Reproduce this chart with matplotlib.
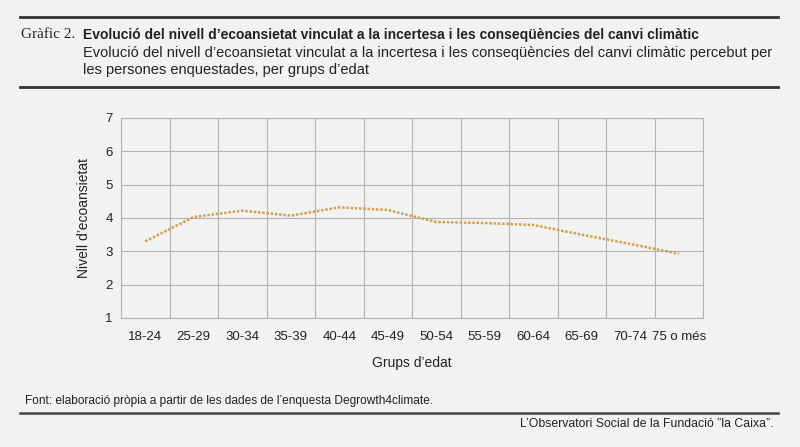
import matplotlib.pyplot as plt
import numpy as np

# dades
grups = ['18-24', '25-29', '30-34', '35-39', '40-44', '45-49',
         '50-54', '55-59', '60-64', '65-69', '70-74', '75 o més']
nivell = [3.30, 4.03, 4.22, 4.07, 4.32, 4.24, 3.88, 3.85, 3.79, 3.50, 3.22, 2.93]
yticks = [1, 2, 3, 4, 5, 6, 7]

bg = '#f2f2f2'
grid_col = '#b3b3b3'
line_col = '#d4a04a'
text_col = '#222222'

plt.rcParams['font.family'] = ['Liberation Sans', 'DejaVu Sans']

fig = plt.figure(figsize=(8, 4.47), dpi=100, facecolor=bg)
ax = fig.add_axes([121 / 800, 1 - 318 / 447, 582 / 800, 200 / 447], facecolor=bg)

x = np.arange(len(grups))
ax.plot(x, nivell, color=line_col, lw=1.8, linestyle=(0, (1, 0.7)))

ax.set_xlim(-0.5, len(grups) - 0.5)
ax.set_ylim(1, 7)
ax.set_yticks(yticks)
ax.set_xticks(x)
ax.set_xticklabels(grups)
ax.set_xticks(np.arange(-0.5, len(grups), 1), minor=True)
ax.tick_params(which='both', length=0, labelsize=9.5, colors=text_col)
ax.tick_params(axis='x', pad=9)
ax.tick_params(axis='y', pad=6)
ax.grid(axis='y', color=grid_col, lw=0.8)
ax.grid(axis='x', which='minor', color=grid_col, lw=0.8)
ax.set_axisbelow(True)
for s in ax.spines.values():
    s.set_color(grid_col)
    s.set_linewidth(0.8)

ax.set_xlabel("Grups d’edat", fontsize=10, color=text_col, labelpad=10)
ax.set_ylabel("Nivell d’ecoansietat", fontsize=10, color=text_col, labelpad=10)

# capçalera
fig.add_artist(plt.Line2D([20 / 800, 778 / 800], [1 - 17 / 447] * 2, color='#333333', lw=2))
fig.add_artist(plt.Line2D([20 / 800, 778 / 800], [1 - 87 / 447] * 2, color='#333333', lw=2))
fig.text(21 / 800, 1 - 35 / 447, 'Gràfic 2.', fontsize=11, family=['Liberation Serif', 'DejaVu Serif'],
         color=text_col, va='center')
fig.text(83 / 800, 1 - 35 / 447,
         'Evolució del nivell d’ecoansietat vinculat a la incertesa i les conseqüències del canvi climàtic',
         fontsize=10, fontweight='bold', color=text_col, va='center')
fig.text(83 / 800, 1 - 53 / 447,
         'Evolució del nivell d’ecoansietat vinculat a la incertesa i les conseqüències del canvi climàtic percebut per',
         fontsize=10.5, color=text_col, va='center')
fig.text(83 / 800, 1 - 70 / 447, 'les persones enquestades, per grups d’edat',
         fontsize=10.5, color=text_col, va='center')

# peu
fig.text(25 / 800, 1 - 401 / 447, 'Font: elaboració pròpia a partir de les dades de l’enquesta Degrowth4climate.',
         fontsize=8.6, color=text_col, va='center')
fig.add_artist(plt.Line2D([20 / 800, 778 / 800], [1 - 413 / 447] * 2, color='#444444', lw=1.8))
fig.text(774 / 800, 1 - 424 / 447, 'L’Observatori Social de la Fundació ”la Caixa”.',
         fontsize=8.8, color=text_col, va='center', ha='right')

fig.savefig('out.png', dpi=100, facecolor=bg)
